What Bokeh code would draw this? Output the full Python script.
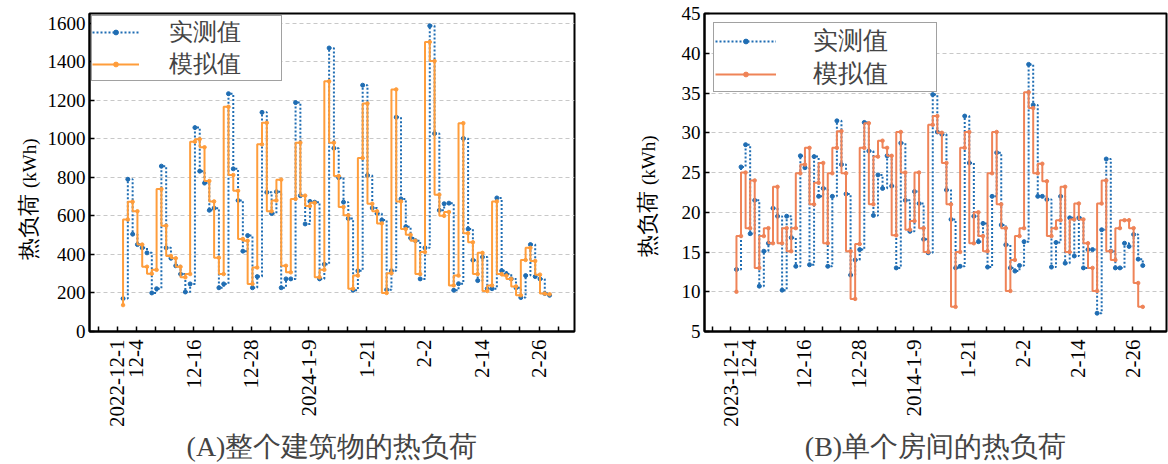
import math
from bokeh.plotting import figure
from bokeh.layouts import row
from bokeh.models import FixedTicker, Legend, LegendItem, Div
from bokeh.embed import file_html
from bokeh.resources import INLINE

# ---------------- data ----------------
left_measured = [171, 790, 505, 451, 434, 408, 200, 222, 858, 434, 380, 341, 298, 205, 247,
                 1058, 832, 770, 629, 640, 227, 247, 1234, 844, 680, 417, 498, 227, 285, 1137,
                 722, 612, 725, 227, 273, 273, 1188, 705, 558, 675, 671, 273, 349, 1471, 951,
                 798, 671, 586, 214, 315, 1278, 810, 641, 612, 578, 217, 315, 1112, 688, 544,
                 485, 471, 273, 434, 1586, 1027, 629, 663, 666, 214, 248, 1002, 532, 370, 264,
                 386, 222, 222, 693, 315, 298, 273, 227, 176, 290, 451, 285, 273, 197, 188]
left_simulated = [137, 581, 673, 624, 451, 336, 300, 320, 739, 549, 392, 380, 336, 281, 298,
                  985, 998, 956, 781, 675, 383, 298, 1166, 812, 730, 480, 471, 247, 332, 971,
                  1083, 624, 680, 788, 341, 307, 688, 980, 705, 651, 668, 281, 320, 1298, 980,
                  807, 646, 603, 222, 290, 900, 1183, 663, 624, 561, 200, 302, 1256, 675, 532,
                  502, 471, 298, 412, 1502, 1403, 710, 600, 620, 239, 290, 1081, 510, 463, 298,
                  408, 210, 239, 675, 298, 290, 273, 234, 188, 371, 434, 366, 295, 197, 193]
right_measured = [12.8, 25.7, 28.5, 17.3, 21.5, 10.7, 15.1, 16.1, 20.5, 19.5, 10.2, 19.5, 16.8,
                  13.2, 27.1, 25.6, 13.4, 27.0, 22.0, 23.0, 13.2, 22.0, 31.5, 26.0, 22.3, 12.1,
                  14.0, 15.3, 31.3, 27.7, 19.6, 24.7, 23.0, 27.1, 23.3, 13.0, 28.7, 21.5, 17.6,
                  22.6, 21.1, 16.6, 14.9, 34.8, 30.1, 29.8, 22.8, 19.1, 13.0, 13.2, 32.1, 26.2,
                  19.5, 16.3, 18.6, 13.1, 22.0, 27.5, 18.4, 15.9, 13.0, 12.6, 13.3, 16.3, 38.6,
                  33.5, 22.0, 22.0, 21.6, 13.1, 16.2, 22.0, 13.6, 19.3, 14.5, 19.3, 13.0, 15.3,
                  15.3, 7.3, 17.8, 26.7, 15.1, 13.0, 13.0, 16.1, 15.7, 17.2, 14.1, 13.3]
right_simulated = [10.0, 17.0, 25.0, 18.0, 24.0, 13.0, 17.0, 18.0, 16.1, 23.2, 16.1, 18.0, 15.1,
                   18.0, 24.9, 26.0, 28.1, 21.0, 23.7, 26.2, 16.1, 24.9, 28.1, 30.2, 24.9, 15.1,
                   9.1, 16.0, 28.1, 31.2, 21.0, 27.0, 29.0, 28.1, 27.1, 17.1, 30.1, 25.0, 17.8,
                   18.9, 25.0, 18.0, 15.0, 31.0, 32.1, 30.0, 26.2, 21.0, 8.1, 15.0, 28.1, 30.1,
                   16.1, 20.0, 17.0, 15.1, 24.9, 30.1, 21.0, 18.0, 10.1, 14.0, 17.0, 18.0, 35.1,
                   33.1, 24.9, 26.1, 23.9, 17.0, 18.0, 19.0, 23.2, 15.0, 19.1, 21.1, 19.1, 16.1,
                   13.0, 10.1, 21.1, 24.0, 15.1, 14.0, 18.0, 19.0, 19.0, 18.0, 11.1, 8.1]

left_tick_labels = {0: "2022-12-1", 4: "12-4", 16: "12-16", 28: "12-28", 40: "2024-1-9",
                    52: "1-21", 64: "2-2", 76: "2-14", 88: "2-26"}
right_tick_labels = {0: "2023-12-1", 4: "12-4", 16: "12-16", 28: "12-28", 40: "2014-1-9",
                     52: "1-21", 64: "2-2", 76: "2-14", 88: "2-26"}
series_names = ["实测值", "模拟值"]
y_title_main = "热负荷"
y_title_unit = "(kWh)"
captions = ["(A)整个建筑物的热负荷", "(B)单个房间的热负荷"]

BLUE = "#1f6db3"
SERIF = "Liberation Serif"
H = 464


def title_div(width, cx, cy):
    """Rotated y-axis title: large Chinese word followed by a smaller unit."""
    bw, bh = 170, 30
    html = (
        f'<div style="width:{bw}px;height:{bh}px;line-height:{bh}px;'
        f'margin-left:{cx - bw / 2}px;margin-top:{cy - bh / 2}px;'
        f'transform:rotate(-90deg);text-align:center;white-space:nowrap;'
        f"font-family:'Liberation Serif',serif;font-size:22px;color:#000;\">"
        f'{y_title_main} <span style="font-size:19px">{y_title_unit}</span></div>'
    )
    return Div(text=html, width=width, height=H, margin=0,
               styles={"overflow": "visible"})


def panel(measured, simulated, tick_labels, caption, yr, ystep, orange,
          width, borders, legend_cfg):
    bl, br, bt, bb = borders
    p = figure(width=width, height=H, x_range=(-5.8, 95.4), y_range=yr,
               output_backend="svg", toolbar_location=None,
               min_border_left=bl, min_border_right=br, min_border_top=bt, min_border_bottom=bb,
               background_fill_color="white", border_fill_color="white")
    x = [i + 1.2 for i in range(len(measured))]
    ml = p.step(x, measured, mode="after", line_color=BLUE, line_width=2, line_dash="2 2")
    ms = p.scatter(x, measured, size=4, fill_color=BLUE, line_color=BLUE)
    sl = p.step(x, simulated, mode="before", line_color=orange, line_width=2)
    ss = p.scatter(x, simulated, size=3.5, fill_color=orange, line_color=orange)

    ticks = list(range(-4, 96, 4))
    p.xaxis.ticker = FixedTicker(ticks=ticks)
    p.xaxis.major_label_overrides = {t: tick_labels.get(t, "") for t in ticks}
    p.xaxis.major_label_orientation = math.pi / 2
    p.xaxis.minor_tick_line_color = None
    p.xaxis.axis_label = caption
    p.xaxis.axis_label_text_font = SERIF
    p.xaxis.axis_label_text_font_size = "28px"
    p.xaxis.axis_label_text_font_style = "normal"
    p.xaxis.axis_label_standoff = 1
    p.xaxis.major_label_text_font_size = "21px"
    p.xaxis.major_label_standoff = 8

    yt = list(range(int(yr[0]), int(yr[1]) + 1, ystep))
    p.yaxis.ticker = FixedTicker(ticks=yt)
    p.yaxis.minor_tick_line_color = None
    p.yaxis.major_label_text_font_size = "19px"
    p.yaxis.major_label_standoff = 4

    for ax in (p.xaxis[0], p.yaxis[0]):
        ax.major_label_text_font = SERIF
        ax.major_label_text_color = "black"
        ax.major_tick_in = 5
        ax.major_tick_out = 0
        ax.major_tick_line_width = 1.5
        ax.major_tick_line_color = "black"
        ax.axis_line_width = 2
        ax.axis_line_color = "black"

    p.xgrid.grid_line_color = None
    p.ygrid.ticker = FixedTicker(ticks=yt)
    p.ygrid.grid_line_color = "#c8c8c8"
    p.ygrid.grid_line_dash = "4 3"
    p.ygrid.grid_line_width = 1
    p.outline_line_color = "black"
    p.outline_line_width = 2
    p.outline_line_alpha = 1

    margin, glyph_w, standoff, label_w, pad, fsize = legend_cfg
    legend = Legend(items=[LegendItem(label=series_names[0], renderers=[ml, ms]),
                           LegendItem(label=series_names[1], renderers=[sl, ss])],
                    location="top_left", orientation="vertical")
    legend.label_text_font = SERIF
    legend.label_text_font_size = fsize
    legend.glyph_width = glyph_w
    legend.glyph_height = 12
    legend.label_height = 12
    legend.label_standoff = standoff
    legend.label_width = label_w
    legend.padding = pad
    legend.spacing = 0
    legend.margin = margin
    legend.border_line_color = "#444444"
    legend.border_line_width = 1
    legend.background_fill_color = "white"
    legend.background_fill_alpha = 1
    p.add_layout(legend)
    return p


tA = title_div(44, 29, 199)
p1 = panel(left_measured, left_simulated, left_tick_labels, captions[0], (0, 1650), 200,
           "#ff9d3b", 586, (42, 56, 11, 130),
           (2, 47, 30, 112, 0, "24px"))
tB = title_div(36, 18, 196)
p2 = panel(right_measured, right_simulated, right_tick_labels, captions[1], (5, 45), 5,
           "#ef8357", 502, (38, 2, 13, 132),
           (9, 61, 37, 122, 1, "25px"))

layout = row(tA, p1, tB, p2, spacing=0)
open("out.html", "w").write(file_html(layout, INLINE))
